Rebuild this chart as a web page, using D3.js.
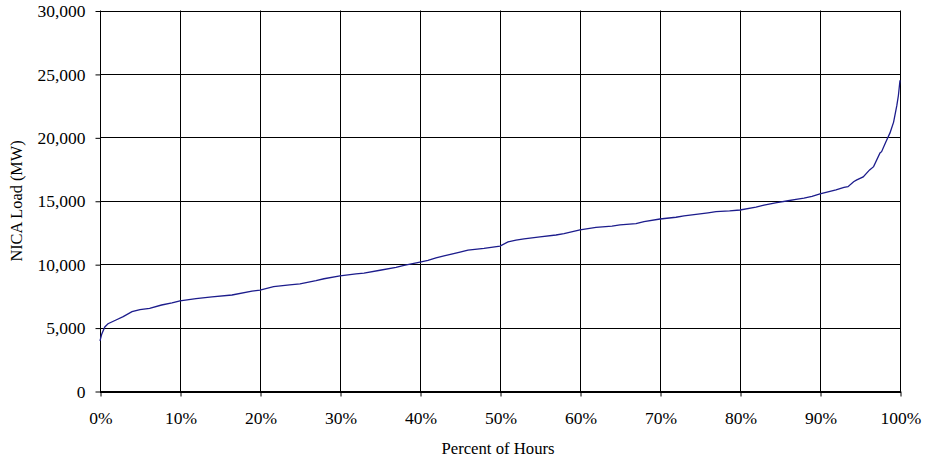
<!DOCTYPE html>
<html><head><meta charset="utf-8">
<script src="https://cdn.jsdelivr.net/npm/d3@7"></script>
<style>body{margin:0;background:#fff}svg{display:block}text{font-family:"Liberation Serif","Times New Roman",serif;fill:#000}</style>
</head><body><svg id="c" width="928" height="473"></svg>
<script>
const pctHours = [0,0.2,0.6,1,2,2.9,4,5,6.2,7.7,9,10,12,14,16.5,19,20,21.7,23.7,25,27,28,30,32,33,35,37,38,40,41,42,43,45,46,48,50,51,52,53,55,57,58,60,61,62,64,65,67,68,70,72,73,75,76,77,78.7,80,82,83,84.6,86,87,88,89,90,91,92,93,93.5,94.2,94.6,95.4,96.2,96.7,97.5,97.7,98.2,98.75,99.2,99.6,99.8,100];
const loadMW = [3950,4450,5050,5300,5600,5860,6250,6420,6520,6780,6950,7100,7280,7420,7570,7880,7960,8230,8360,8450,8700,8850,9070,9230,9300,9520,9750,9900,10170,10300,10500,10650,10950,11100,11250,11430,11750,11900,12000,12150,12300,12400,12700,12800,12900,13000,13100,13200,13350,13560,13700,13800,13960,14050,14140,14200,14270,14500,14650,14850,15000,15100,15200,15350,15550,15700,15850,16050,16110,16500,16640,16880,17430,17690,18770,18870,19600,20350,21200,22500,23300,24500];
const yTicks = [0,5000,10000,15000,20000,25000,30000];
const xTicks = [0,10,20,30,40,50,60,70,80,90,100];

const svg = d3.select("#c");
const L = 100, R = 900, T = 10.5, B = 391;
const x = d3.scaleLinear().domain([0,100]).range([L,R]);
const y = d3.scaleLinear().domain([0,30000]).range([B,T]);

// grid
const g = svg.append("g");
g.selectAll("line.h").data(yTicks).join("line")
  .attr("x1",L).attr("x2",R).attr("y1",d=>Math.round(y(d))+0.5).attr("y2",d=>Math.round(y(d))+0.5)
  .attr("stroke","#000").attr("stroke-width",1);
g.selectAll("line.v").data(xTicks).join("line")
  .attr("y1",T).attr("y2",B).attr("x1",d=>Math.round(x(d))+0.5).attr("x2",d=>Math.round(x(d))+0.5)
  .attr("stroke","#000").attr("stroke-width",1);

// axes
const yAxis = d3.axisLeft(y).tickValues(yTicks).tickSize(5).tickPadding(10).tickFormat(d3.format(","));
const ya = svg.append("g").attr("transform",`translate(${L+0.5},0.5)`).call(yAxis);
const xAxis = d3.axisBottom(x).tickValues(xTicks).tickSize(5).tickFormat(d=>d+"%");
const xa = svg.append("g").attr("transform",`translate(0.5,${Math.round(B)+0.5})`).call(xAxis);
[ya,xa].forEach(a=>{a.selectAll(".tick line").attr("stroke","#000");
  a.selectAll("text").attr("font-size",17.5).attr("font-family","Liberation Serif").attr("fill","#000");});
xa.selectAll("text").attr("y",32.5).attr("dy",0);
ya.select(".domain").remove();
xa.select(".domain").remove();
svg.append("line").attr("x1",L).attr("x2",R+1).attr("y1",Math.round(B)+1).attr("y2",Math.round(B)+1).attr("stroke","#000").attr("stroke-width",2);

// line
const line = d3.line().x((d,i)=>x(pctHours[i])).y(d=>y(d));
svg.append("path").datum(loadMW).attr("d",line).attr("fill","none").attr("stroke","#1c1c8c").attr("stroke-width",1.3);

// titles
svg.append("text").attr("x",498).attr("y",454).attr("text-anchor","middle").attr("font-size",16.7).text("Percent of Hours");
svg.append("text").attr("transform","translate(22,201) rotate(-90)").attr("text-anchor","middle").attr("font-size",16.3).text("NICA Load (MW)");
</script></body></html>
